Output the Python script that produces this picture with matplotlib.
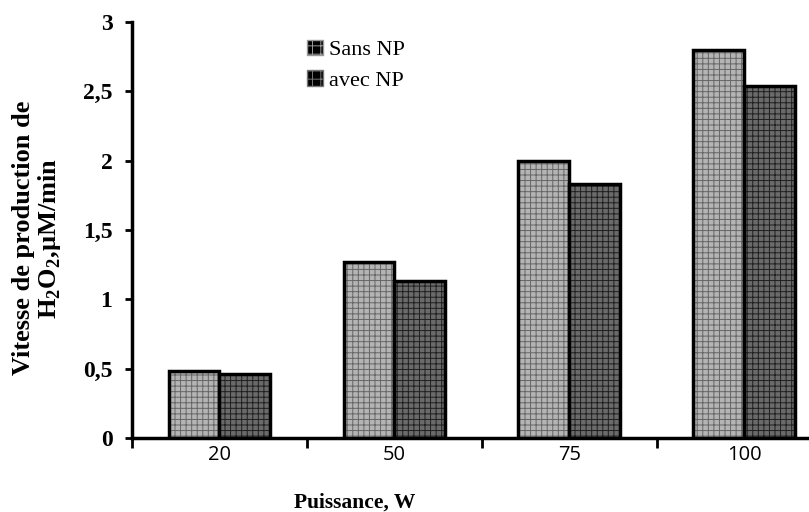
import matplotlib.pyplot as plt
import numpy as np
from matplotlib.patches import Patch

plt.rcParams['hatch.linewidth'] = 0.7
plt.rcParams['mathtext.fontset'] = 'custom'
plt.rcParams['mathtext.rm'] = 'Liberation Serif:bold'

puissance = ['20', '50', '75', '100']
sans_np = [0.48, 1.27, 2.00, 2.80]
avec_np = [0.46, 1.13, 1.83, 2.54]
yticks = [0, 0.5, 1, 1.5, 2, 2.5, 3]
ylabels = ['0', '0,5', '1', '1,5', '2', '2,5', '3']

fig = plt.figure(figsize=(8.09, 5.12), dpi=100)
ax = fig.add_axes([0.163, 0.1445, 0.865, 0.8125])

x = np.arange(len(puissance))
w = 0.29
b1 = ax.bar(x - w / 2, sans_np, w, color='#b4b4b4', edgecolor='black',
            linewidth=2.5, hatch='+++', zorder=3)
for b in b1:
    b._hatch_color = (0.4, 0.4, 0.4, 1)
b2 = ax.bar(x + w / 2, avec_np, w, color='#6a6a6a', edgecolor='black',
            linewidth=2.5, hatch='+++', zorder=3)
for b in b2:
    b._hatch_color = (0.12, 0.12, 0.12, 1)

ax.set_xlim(-0.5, 3.5)
ax.set_ylim(0, 3)
ax.spines['top'].set_visible(False)
ax.spines['right'].set_visible(False)
ax.spines['left'].set_linewidth(2.5)
ax.spines['bottom'].set_linewidth(2.5)

ax.set_yticks(yticks)
ax.set_yticklabels(ylabels, family='Liberation Serif', fontweight='bold', fontsize=17)
ax.tick_params(axis='y', length=5, width=2, pad=9)

ax.set_xticks(x)
ax.set_xticklabels(puissance, family='Open Sans', fontsize=14.5)
ax.tick_params(axis='x', which='major', length=0, pad=5)
ax.set_xticks(np.arange(-0.5, 3.6, 1), minor=True)
ax.tick_params(axis='x', which='minor', length=7, width=2)

ax.set_xlabel('Puissance, W', family='Liberation Serif', fontweight='bold', fontsize=15.5)
ax.xaxis.set_label_coords((355 - 132) / 700, -0.13)

fig.text(0.046, 0.535, 'Vitesse de production de\nH$_\\mathrm{2}$O$_\\mathrm{2}$,µM/min', rotation=90,
         ha='center', va='center', family='Liberation Serif', fontweight='bold',
         fontsize=19, linespacing=1.05)

handles = [Patch(facecolor='black', edgecolor='#999999', hatch='++'),
           Patch(facecolor='black', edgecolor='#777777', hatch='++')]
ax.legend(handles, ['Sans NP', 'avec NP'], loc='upper left',
          bbox_to_anchor=(0.222, 1.005), frameon=False,
          prop={'family': 'Liberation Serif', 'size': 16},
          handlelength=0.7, handleheight=0.7, handletextpad=0.3, labelspacing=0.45)

fig.savefig('out.png', dpi=100)
